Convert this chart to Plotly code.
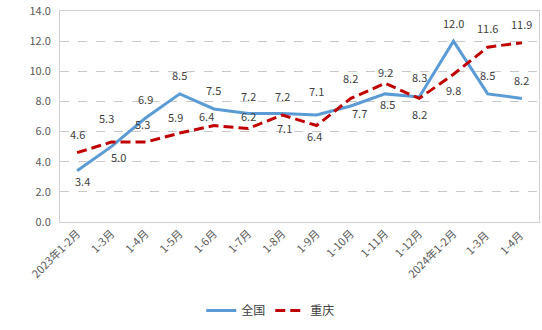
import plotly.graph_objects as go

categories = ["2023年1-2月", "1-3月", "1-4月", "1-5月", "1-6月", "1-7月", "1-8月", "1-9月",
              "1-10月", "1-11月", "1-12月", "2024年1-2月", "1-3月 ", "1-4月 "]
national = [3.4, 5.0, 6.9, 8.5, 7.5, 7.2, 7.2, 7.1, 7.7, 8.5, 8.3, 12.0, 8.5, 8.2]
chongqing = [4.6, 5.3, 5.3, 5.9, 6.4, 6.2, 7.1, 6.4, 8.2, 9.2, 8.2, 9.8, 11.6, 11.9]

# label offsets in pixels (style only)
nat_dx = [5, 7, 0, 0, 0, 0, 0, 0, 9, 2, 0, 0, 0, 0]
nat_dy = [-10, -10, 19, 19, 19, 17, 17, 24, -7, -10, 20, 18, 19, 18]
cq_dx = [0, -5, -3, -4, -7, 0, 2, -2, 0, 0, 0, 0, 0, 0]
cq_dy = [19, 24, 18, 16, 10, 13, -13, -10, 20, 11, -16, -16, 19, 19]

FONT = "Noto Sans CJK SC"
fig = go.Figure()
fig.add_trace(go.Scatter(
    x=categories, y=national, name="全国", mode="lines",
    line=dict(color="#5B9BD5", width=3),
))
fig.add_trace(go.Scatter(
    x=categories, y=chongqing, name="重庆", mode="lines",
    line=dict(color="#C00000", width=3, dash="10px,5px"),
))

for series, dxs, dys in ((national, nat_dx, nat_dy), (chongqing, cq_dx, cq_dy)):
    for c, v, dx, dy in zip(categories, series, dxs, dys):
        fig.add_annotation(x=c, y=v, text=f"{v:.1f}", showarrow=False,
                           xshift=dx, yshift=dy,
                           font=dict(size=11, color="#404040", family=FONT))

fig.update_layout(
    width=542, height=330,
    margin=dict(l=60, r=3, t=11, b=108),
    paper_bgcolor="white", plot_bgcolor="white",
    font=dict(family=FONT, size=11, color="#595959"),
    legend=dict(orientation="h", x=0.44, xanchor="center", y=-0.42, yanchor="middle",
                font=dict(size=12, color="#404040"), itemwidth=30, tracegroupgap=0),
    xaxis=dict(type="category", range=[-0.5, 13.5], tickangle=-45,
               showgrid=False, showline=True, linecolor="#D0D0D0", linewidth=1,
               mirror=True, ticks="", tickfont=dict(size=11, color="#595959")),
    yaxis=dict(range=[0, 14], dtick=2, tickformat=".1f", showgrid=True,
               gridcolor="#C8C8C8", griddash="dash", gridwidth=1,
               showline=True, linecolor="#D0D0D0", linewidth=1, mirror=True,
               zeroline=False, ticks="", ticklabelstandoff=6,
               tickfont=dict(size=11, color="#595959")),
)
fig.write_html("out.html")
